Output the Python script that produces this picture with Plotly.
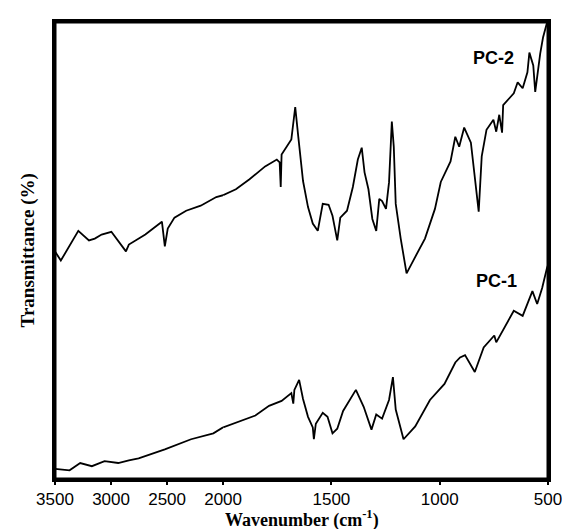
import plotly.graph_objects as go

# ---- data (wavenumber in cm^-1, transmittance in arbitrary % units) ----
pc2_wn = [3500, 3448, 3292, 3197, 3145, 3084, 2997, 2936, 2867, 2841, 2694, 2546, 2520, 2494,
          2434, 2330, 2200, 2061, 2000, 1941, 1878, 1806, 1752, 1739, 1734, 1730, 1685, 1667,
          1653, 1631, 1608, 1586, 1563, 1540, 1513, 1495, 1486, 1473, 1459, 1428, 1401, 1378,
          1360, 1347, 1329, 1311, 1293, 1279, 1266, 1248, 1234, 1221, 1212, 1203, 1180, 1153,
          1122, 1068, 1022, 995, 950, 928, 910, 887, 856, 833, 820, 806, 784, 752, 739, 725,
          712, 707, 658, 640, 617, 595, 586, 568, 559, 536, 523, 505, 500]
pc2_t = [49.8, 47.8, 54.3, 52.2, 52.6, 53.5, 54.1, 52.0, 49.8, 51.3, 53.5, 56.3, 50.9, 54.8,
         57.2, 58.7, 59.8, 61.7, 62.1, 63.4, 65.6, 68.4, 69.9, 69.3, 63.9, 71.0, 74.3, 81.4,
         74.9, 65.2, 59.5, 55.9, 54.3, 60.2, 60.0, 57.6, 55.4, 52.2, 57.2, 58.7, 63.9, 69.9,
         72.5, 67.1, 63.4, 56.9, 54.3, 61.3, 60.8, 59.1, 64.9, 78.2, 72.7, 60.2, 52.6, 45.0,
         47.8, 52.6, 59.1, 65.0, 69.5, 74.9, 72.7, 76.9, 73.6, 63.4, 58.5, 70.6, 76.4, 78.6, 76.0, 79.7,
         75.8, 81.8, 84.4, 86.8, 85.5, 89.0, 93.3, 90.5, 84.7, 93.1, 96.6, 99.8, 100.0]

pc1_wn = [3500, 3370, 3275, 3171, 3058, 2936, 2841, 2754, 2520, 2286, 2087, 2000, 1851, 1788,
          1730, 1685, 1676, 1671, 1649, 1631, 1608, 1586, 1581, 1572, 1540, 1518, 1495, 1473,
          1446, 1387, 1351, 1315, 1293, 1266, 1234, 1216, 1203, 1167, 1113, 1045, 978, 928,
          906, 883, 838, 797, 748, 739, 694, 658, 617, 572, 550, 527, 505, 500]
pc1_t = [2.2, 1.9, 3.5, 2.8, 3.9, 3.5, 4.1, 4.5, 6.5, 8.7, 10.0, 11.3, 13.9, 16.0,
         17.1, 18.8, 16.5, 19.5, 21.7, 17.5, 13.6, 11.3, 8.7, 12.1, 14.5, 13.6, 10.0, 11.0,
         14.9, 19.5, 15.8, 10.8, 14.1, 13.2, 17.3, 22.3, 15.2, 8.7, 11.5, 17.3, 20.8, 25.5,
         26.6, 27.1, 23.4, 28.8, 31.4, 29.9, 33.6, 36.8, 35.7, 41.1, 38.3, 41.8, 46.1, 46.8]

high_ticks = [3500, 3000, 2500, 2000]
low_ticks = [1500, 1000, 500]
series_labels = ["PC-2", "PC-1"]
label_pos = [(752, 92.2), (739, 43.4)]

SPLIT = 2000
line_style = dict(color="black", width=1.8)


def part(wn, t, high):
    pts = [(w, v) for w, v in zip(wn, t) if (w >= SPLIT if high else w <= SPLIT)]
    return [p[0] for p in pts], [p[1] for p in pts]


fig = go.Figure()
for wn, t, name in [(pc2_wn, pc2_t, "PC-2"), (pc1_wn, pc1_t, "PC-1")]:
    xh, yh = part(wn, t, True)
    xl, yl = part(wn, t, False)
    fig.add_trace(go.Scatter(x=xh, y=yh, mode="lines", line=line_style, name=name,
                             xaxis="x", yaxis="y", showlegend=False))
    fig.add_trace(go.Scatter(x=xl, y=yl, mode="lines", line=line_style, name=name,
                             xaxis="x2", yaxis="y2", showlegend=False))

tick_font = dict(family="Liberation Sans Narrow, Arial Narrow, Liberation Sans, Arial",
                 size=17, color="black")
split_frac = 0.341

fig.update_layout(
    width=570, height=529,
    margin=dict(l=47, r=17, t=11, b=58),
    paper_bgcolor="white", plot_bgcolor="white",
)
fig.update_xaxes(showgrid=False, zeroline=False, showline=True, linecolor="black",
                 linewidth=3, mirror=True, ticks="outside", ticklen=3, tickwidth=2,
                 tickcolor="black", tickfont=tick_font)
fig.update_yaxes(range=[0, 100], showgrid=False, zeroline=False, showline=True,
                 linecolor="black", linewidth=3, showticklabels=False, ticks="")
fig.update_layout(
    xaxis=dict(domain=[0, split_frac], range=[3500, SPLIT], tickmode="array",
               tickvals=high_ticks, ticktext=[str(v) for v in high_ticks], anchor="y"),
    xaxis2=dict(domain=[split_frac, 1], range=[SPLIT, 500], tickmode="array",
                tickvals=low_ticks, ticktext=[str(v) for v in low_ticks], anchor="y2",
                showline=True, linecolor="black", linewidth=3, mirror=True, ticks="outside",
                ticklen=3, tickwidth=2, tickcolor="black", tickfont=tick_font,
                showgrid=False, zeroline=False),
    yaxis=dict(anchor="x", side="left"),
    yaxis2=dict(anchor="x2", side="right", range=[0, 100], showline=True, linecolor="black",
                linewidth=3, showticklabels=False, ticks="", showgrid=False, zeroline=False),
)
fig.add_shape(type="rect", xref="paper", yref="paper", x0=0, x1=1, y0=0, y1=1,
              line=dict(color="black", width=3), layer="below")

title_font = dict(family="Liberation Serif, Times New Roman, serif", size=18, color="black")
fig.add_annotation(text="<b>Wavenumber (cm<sup>-1</sup>)</b>", xref="paper", yref="paper",
                   x=0.5, y=-0.1185, xanchor="center", yanchor="bottom", showarrow=False,
                   font=title_font)
fig.add_annotation(text="<b>Transmittance (%)</b>", xref="paper", yref="paper",
                   x=-0.055, y=0.5, xanchor="center", yanchor="middle", textangle=-90,
                   showarrow=False, font=dict(family="Liberation Serif, Times New Roman, serif",
                                              size=19, color="black"))

for lab, (lx, ly) in zip(series_labels, label_pos):
    fig.add_annotation(text="<b>%s</b>" % lab, xref="x2", yref="y2", x=lx, y=ly,
                       xanchor="center", yanchor="middle", showarrow=False,
                       font=dict(family="Liberation Sans, Arial", size=18, color="black"))

fig.write_html("out.html")
